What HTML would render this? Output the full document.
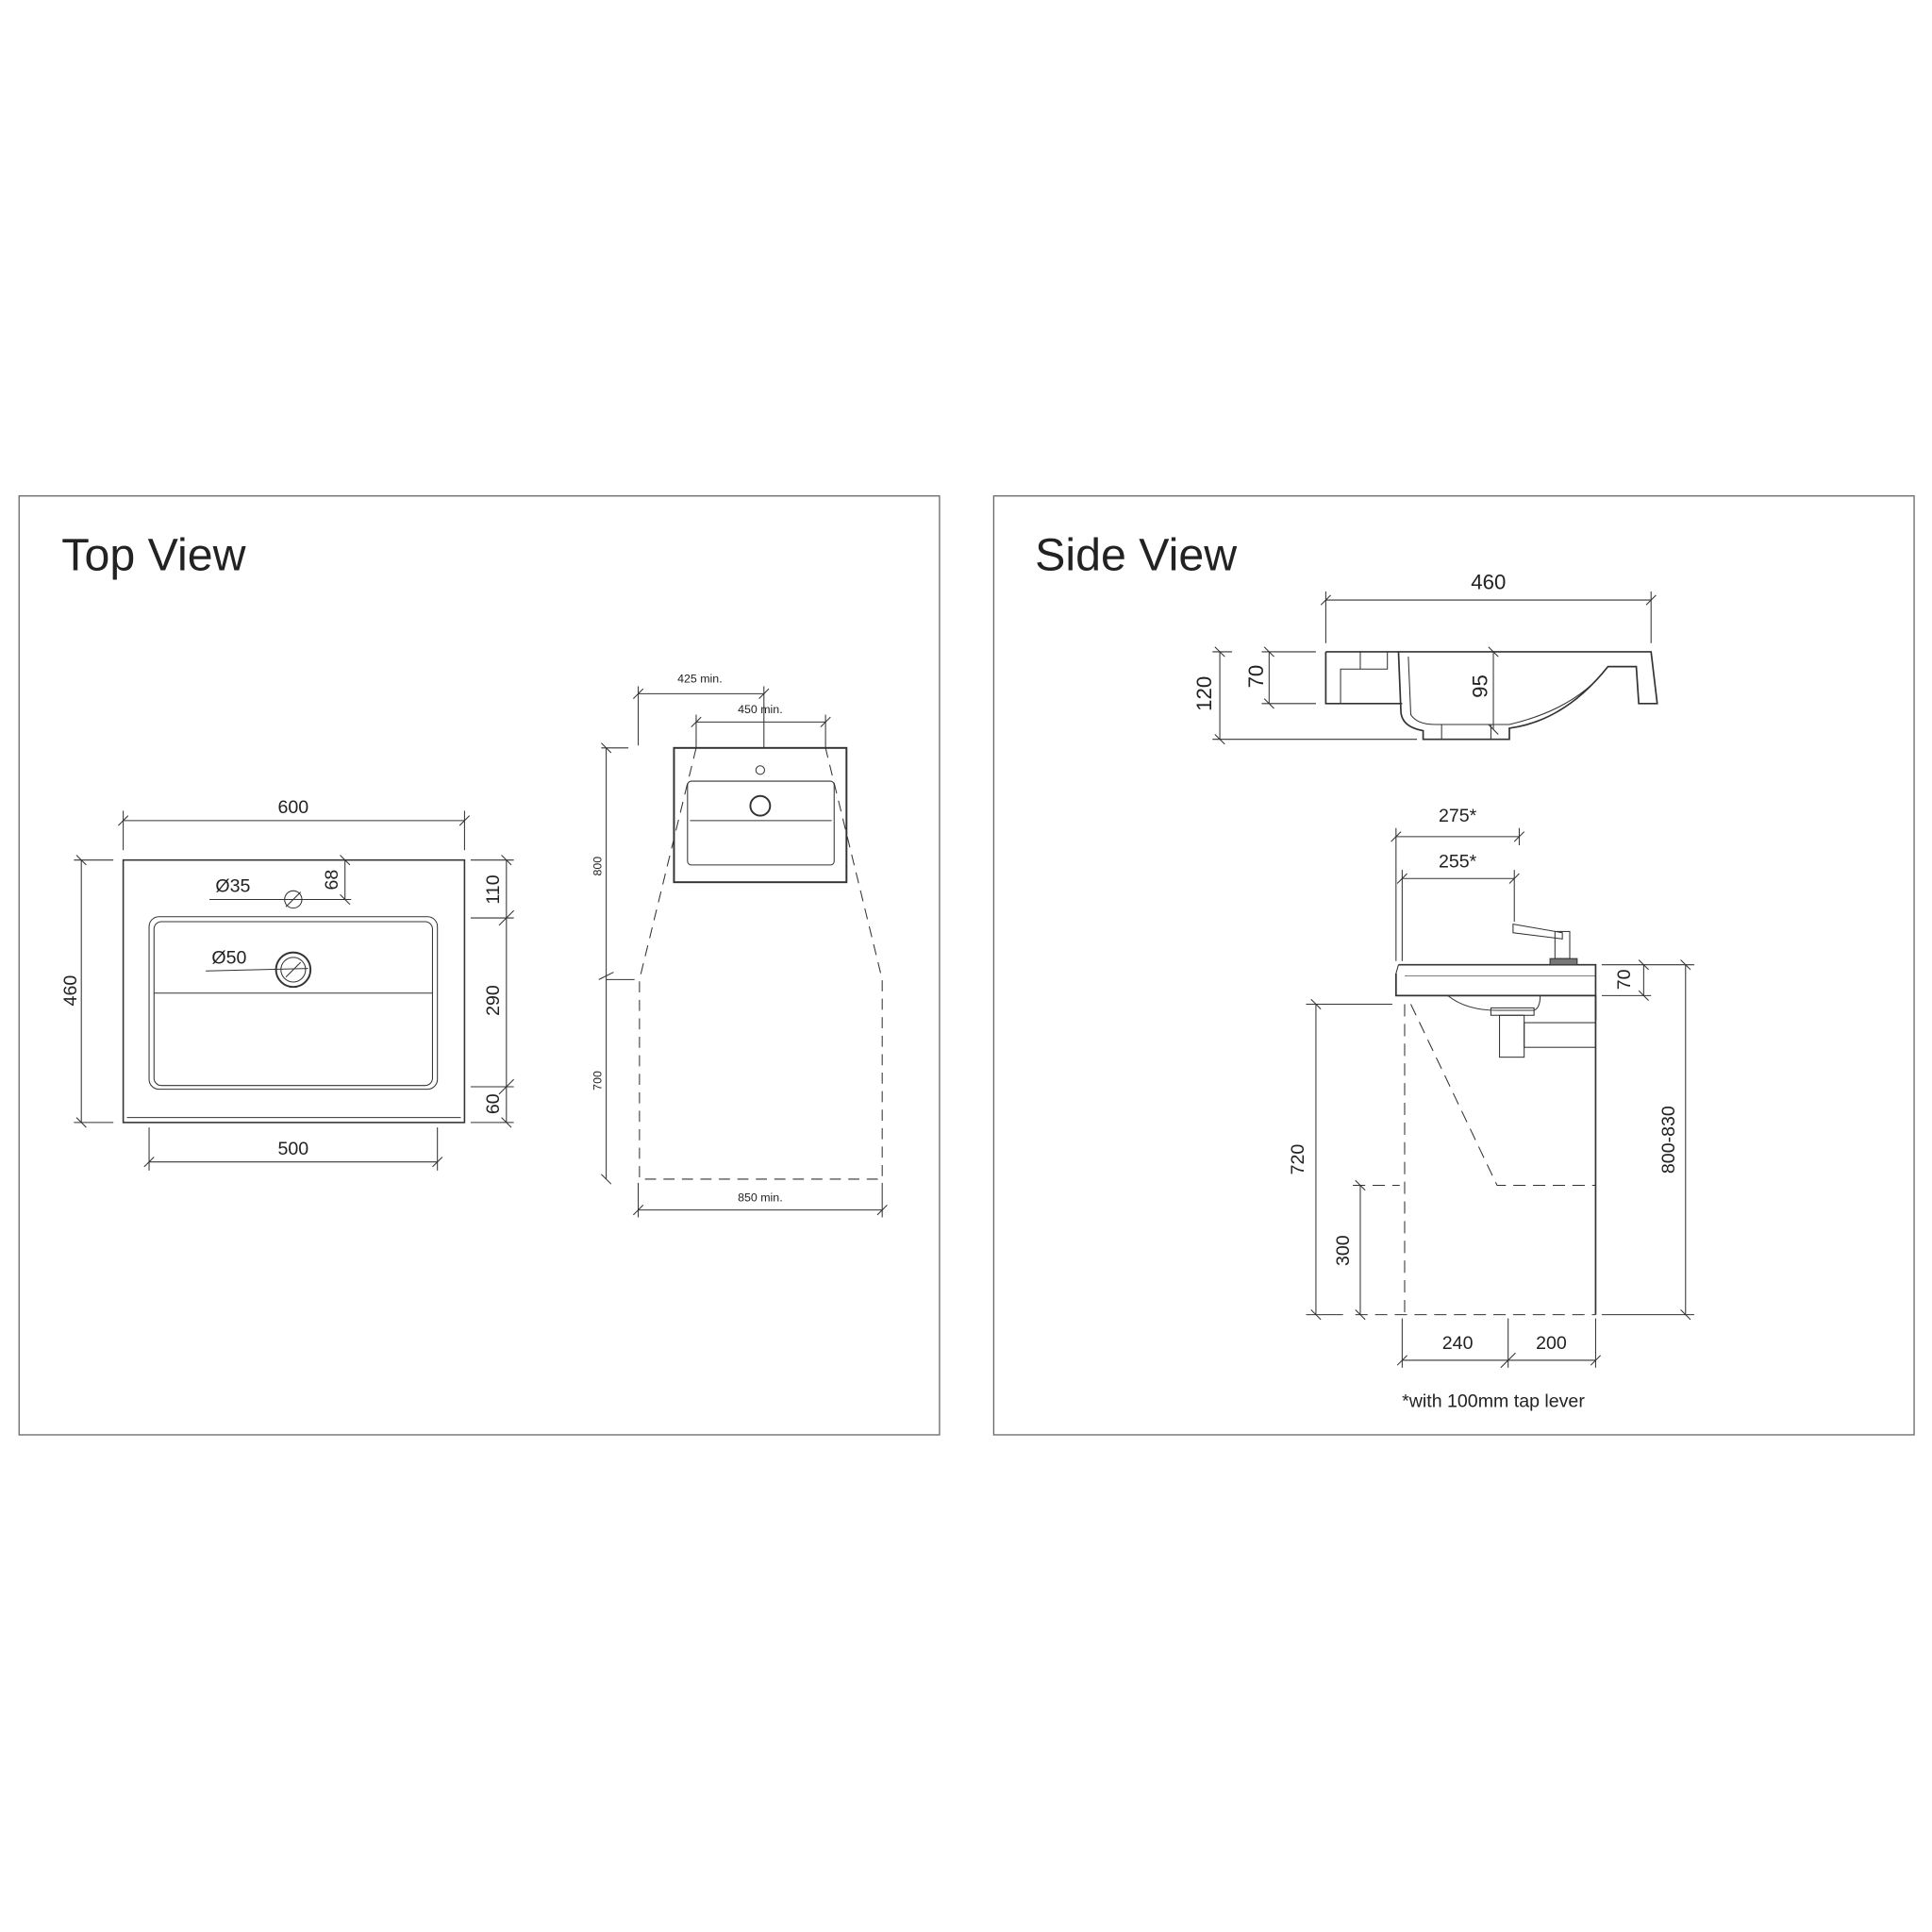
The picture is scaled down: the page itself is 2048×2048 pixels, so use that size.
<!DOCTYPE html>
<html><head><meta charset="utf-8"><style>
html,body{margin:0;padding:0;background:#fff;}
svg{display:block;}
text{font-family:"Liberation Sans",sans-serif;fill:#222;}
</style></head><body>
<svg width="2048" height="2048" viewBox="0 0 1568 1568" xmlns="http://www.w3.org/2000/svg">
<defs>
<marker id="t" markerWidth="12" markerHeight="12" refX="6" refY="6" orient="auto" markerUnits="userSpaceOnUse">
<line x1="2" y1="10" x2="10" y2="2" stroke="#333" stroke-width="0.8"/>
</marker>
</defs>
<rect x="15.5" y="402.5" width="747" height="762" fill="none" stroke="#666" stroke-width="1"/>
<rect x="806.5" y="402.5" width="747" height="762" fill="none" stroke="#666" stroke-width="1"/>
<text x="50" y="463" font-size="37">Top View</text>
<text x="840" y="463" font-size="37">Side View</text>

<g stroke="#333" stroke-width="0.8" fill="none">
<!-- Top view sink -->
<rect x="100" y="698" width="277" height="213" stroke-width="1.2"/>
<line x1="103" y1="907" x2="374" y2="907"/>
<rect x="121" y="744" width="234" height="140" rx="8"/>
<rect x="125" y="748" width="226" height="133" rx="6"/>
<line x1="125" y1="806" x2="351" y2="806"/>
<circle cx="238" cy="787" r="14" stroke-width="1.5"/>
<circle cx="238" cy="787" r="10"/>
<circle cx="238" cy="730" r="7"/>
<!-- dims -->
<line x1="100" y1="666" x2="377" y2="666" marker-start="url(#t)" marker-end="url(#t)"/>
<line x1="100" y1="658" x2="100" y2="690"/><line x1="377" y1="658" x2="377" y2="690"/>
<line x1="66" y1="698" x2="66" y2="911" marker-start="url(#t)" marker-end="url(#t)"/>
<line x1="60" y1="698" x2="92" y2="698"/><line x1="60" y1="911" x2="92" y2="911"/>
<line x1="411" y1="698" x2="411" y2="911" marker-start="url(#t)" marker-end="url(#t)"/>
<line x1="382" y1="698" x2="417" y2="698"/><line x1="382" y1="745" x2="417" y2="745"/><line x1="382" y1="882" x2="417" y2="882"/><line x1="382" y1="911" x2="417" y2="911"/>
<path d="M405,751 L417,739 M405,888 L417,876"/>
<line x1="280" y1="698" x2="280" y2="730" marker-start="url(#t)" marker-end="url(#t)"/>
<line x1="170" y1="730" x2="285" y2="730"/>
<path d="M232,736 L244,724"/>
<line x1="167" y1="788" x2="250" y2="786"/>
<path d="M232,793 L244,781"/>
<line x1="121" y1="943" x2="355" y2="943" marker-start="url(#t)" marker-end="url(#t)"/>
<line x1="121" y1="915" x2="121" y2="950"/><line x1="355" y1="915" x2="355" y2="950"/>

<!-- install diagram -->
<rect x="547" y="607" width="140" height="109" stroke-width="1.5"/>
<rect x="558" y="634" width="119" height="68" rx="3"/>
<line x1="560" y1="666" x2="675" y2="666"/>
<circle cx="617" cy="654" r="8" stroke-width="1.5"/>
<circle cx="617" cy="625" r="3.5"/>
<path d="M565,607 L519,795 L519,957 L716,957 L716,795 L670,607" stroke-dasharray="9,6"/>
<line x1="492" y1="607" x2="492" y2="957" marker-start="url(#t)" marker-end="url(#t)"/>
<path d="M486,795 L498,789" /><line x1="492" y1="795" x2="515" y2="795"/>
<line x1="488" y1="607" x2="510" y2="607"/>
<line x1="518" y1="563" x2="620" y2="563" marker-start="url(#t)" marker-end="url(#t)"/>
<line x1="518" y1="557" x2="518" y2="605"/><line x1="620" y1="557" x2="620" y2="607"/>
<line x1="565" y1="586" x2="670" y2="586" marker-start="url(#t)" marker-end="url(#t)"/>
<line x1="565" y1="580" x2="565" y2="607"/><line x1="670" y1="580" x2="670" y2="607"/>
<line x1="518" y1="982" x2="716" y2="982" marker-start="url(#t)" marker-end="url(#t)"/>
<line x1="518" y1="960" x2="518" y2="988"/><line x1="716" y1="960" x2="716" y2="988"/>

<!-- side section -->
<path d="M1076,529 L1340,529 L1345,571 L1330,571 L1328,541 L1305,541 Q1270,585 1225,591 L1225,600 L1155,600 L1155,593 Q1138,590 1137,578 L1135,529" stroke-width="1.3"/>
<path d="M1076,529 L1076,571 L1138,571"  stroke-width="1.3"/>
<path d="M1088,571 L1088,543 L1126,543 L1126,529 M1104,543 L1104,529"/>
<path d="M1143,533 L1145,580 Q1150,588 1165,588 L1225,588 Q1280,575 1305,541"/>
<path d="M1170,588 L1170,600 M1210,588 L1210,600"/>
<line x1="1076" y1="487" x2="1340" y2="487" marker-start="url(#t)" marker-end="url(#t)"/>
<line x1="1076" y1="480" x2="1076" y2="522"/><line x1="1340" y1="480" x2="1340" y2="522"/>
<line x1="990" y1="529" x2="990" y2="600" marker-start="url(#t)" marker-end="url(#t)"/>
<line x1="984" y1="529" x2="1000" y2="529"/><line x1="984" y1="600" x2="1150" y2="600"/>
<line x1="1030" y1="529" x2="1030" y2="571" marker-start="url(#t)" marker-end="url(#t)"/>
<line x1="1024" y1="529" x2="1068" y2="529"/><line x1="1024" y1="571" x2="1068" y2="571"/>
<line x1="1212" y1="529" x2="1212" y2="592" marker-start="url(#t)" marker-end="url(#t)"/>

<!-- side elevation -->
<path d="M1135,783 L1295,783 L1295,828 M1133,790 L1133,808 L1295,808" stroke-width="1.3"/>
<path d="M1135,783 L1133,790"/>
<line x1="1140" y1="792" x2="1295" y2="792" stroke-width="0.5"/>
<path d="M1175,808 Q1190,820 1215,820 L1245,820 Q1250,818 1250,808"/>
<rect x="1210" y="818" width="35" height="6"/>
<rect x="1217" y="824" width="20" height="34"/>
<rect x="1237" y="830" width="58" height="20"/>
<rect x="1262" y="756" width="12" height="22"/>
<rect x="1258" y="778" width="22" height="5" fill="#777"/>
<path d="M1228,750 L1268,757 L1268,762 L1228,757 Z"/>
<line x1="1295" y1="808" x2="1295" y2="1067" stroke-width="1.3"/>
<line x1="1140" y1="815" x2="1140" y2="1067" stroke-dasharray="10,6"/>
<line x1="1100" y1="1067" x2="1295" y2="1067" stroke-dasharray="10,6"/>
<path d="M1145,815 L1215,962 L1295,962" stroke-dasharray="10,6"/>
<line x1="1068" y1="815" x2="1068" y2="1067" marker-start="url(#t)" marker-end="url(#t)"/>
<line x1="1060" y1="815" x2="1130" y2="815"/><line x1="1060" y1="1067" x2="1090" y2="1067"/>
<line x1="1104" y1="962" x2="1104" y2="1067" marker-start="url(#t)" marker-end="url(#t)"/>
<line x1="1098" y1="962" x2="1136" y2="962" stroke-dasharray="10,6"/>
<line x1="1368" y1="783" x2="1368" y2="1067" marker-start="url(#t)" marker-end="url(#t)"/>
<line x1="1300" y1="783" x2="1375" y2="783"/><line x1="1300" y1="1067" x2="1375" y2="1067"/>
<line x1="1334" y1="783" x2="1334" y2="808" marker-start="url(#t)" marker-end="url(#t)"/>
<line x1="1300" y1="808" x2="1340" y2="808"/>
<line x1="1138" y1="1104" x2="1295" y2="1104" marker-start="url(#t)" marker-end="url(#t)"/>
<path d="M1218,1110 L1230,1098"/>
<line x1="1138" y1="1070" x2="1138" y2="1110"/><line x1="1224" y1="1070" x2="1224" y2="1110"/><line x1="1295" y1="1070" x2="1295" y2="1110"/>
<line x1="1133" y1="679" x2="1233" y2="679" marker-start="url(#t)" marker-end="url(#t)"/>
<line x1="1138" y1="713" x2="1229" y2="713" marker-start="url(#t)" marker-end="url(#t)"/>
<line x1="1133" y1="672" x2="1133" y2="780"/><line x1="1138" y1="706" x2="1138" y2="780"/>
<line x1="1233" y1="672" x2="1233" y2="686"/><line x1="1229" y1="706" x2="1229" y2="748"/>
</g>

<g font-size="15" text-anchor="middle">
<text x="238" y="660">600</text>
<text x="238" y="937">500</text>
<text x="189" y="724">Ø35</text>
<text x="186" y="782">Ø50</text>
<text transform="translate(62,804) rotate(-90)">460</text>
<text transform="translate(405,722) rotate(-90)">110</text>
<text transform="translate(405,812) rotate(-90)">290</text>
<text transform="translate(405,896) rotate(-90)">60</text>
<text transform="translate(274,714) rotate(-90)">68</text>
<text x="1208" y="478" font-size="17">460</text>
<text transform="translate(983,563) rotate(-90)" font-size="17">120</text>
<text transform="translate(1025,549) rotate(-90)" font-size="17">70</text>
<text transform="translate(1207,557) rotate(-90)" font-size="17">95</text>
<text x="1183" y="667">275*</text>
<text x="1183" y="704">255*</text>
<text transform="translate(1323,795) rotate(-90)">70</text>
<text transform="translate(1058,941) rotate(-90)">720</text>
<text transform="translate(1095,1015) rotate(-90)">300</text>
<text transform="translate(1359,925) rotate(-90)">800-830</text>
<text x="1183" y="1095">240</text>
<text x="1259" y="1095">200</text>
<text x="1212" y="1142">*with 100mm tap lever</text>
</g>
<g font-size="9.5" text-anchor="middle">
<text x="568" y="554">425 min.</text>
<text x="617" y="579">450 min.</text>
<text x="617" y="975">850 min.</text>
<text transform="translate(488,703) rotate(-90)">800</text>
<text transform="translate(488,877) rotate(-90)">700</text>
</g>
</svg>
</body></html>
